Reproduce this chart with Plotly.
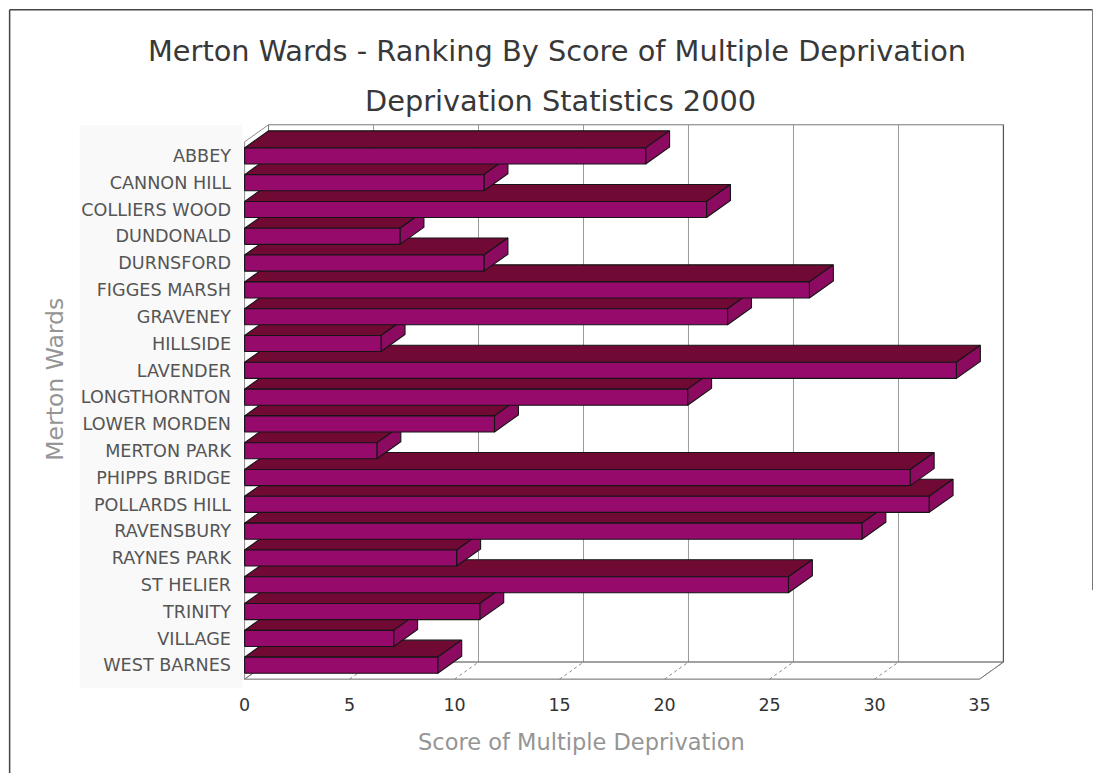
import plotly.graph_objects as go

# ---------------- data ----------------
wards = ["ABBEY", "CANNON HILL", "COLLIERS WOOD", "DUNDONALD", "DURNSFORD",
         "FIGGES MARSH", "GRAVENEY", "HILLSIDE", "LAVENDER", "LONGTHORNTON",
         "LOWER MORDEN", "MERTON PARK", "PHIPPS BRIDGE", "POLLARDS HILL",
         "RAVENSBURY", "RAYNES PARK", "ST HELIER", "TRINITY", "VILLAGE",
         "WEST BARNES"]
scores = [19.1, 11.4, 22.0, 7.4, 11.4, 26.9, 23.0, 6.5, 33.9, 21.1,
          11.9, 6.3, 31.7, 32.6, 29.4, 10.1, 25.9, 11.2, 7.1, 9.2]
x_ticks = [0, 5, 10, 15, 20, 25, 30, 35]
x_max = 35

title_1 = "Merton Wards - Ranking By Score of Multiple Deprivation"
title_2 = "Deprivation Statistics 2000"
x_title = "Score of Multiple Deprivation"
y_title = "Merton Wards"

# ---------------- style / geometry ----------------
FONT = "DejaVu Sans"
FRONT = "#960a6c"
TOP = "#700a34"
SIDE = "#8c0a60"
EDGE = "#151515"
HALF = 0.3          # half bar thickness (category units)
DX = 1.14           # oblique depth offset in x units
DY = 0.635          # oblique depth offset in category units
FLOOR_FRONT = -0.52
FLOOR_BACK = FLOOR_FRONT + DY
WALL_TOP = 20.16

FIG_W, FIG_H = 1101, 773
L, R, T, B = 232.4, 68.5, 113.1, 81.2
PW = FIG_W - L - R
PH = FIG_H - T - B


def xp(px):
    return (px - L) / PW


def yp(py):
    return (FIG_H - B - py) / PH


n = len(wards)
pos = [n - 1 - i for i in range(n)]

fig = go.Figure()


def poly(xs, ys, fill, line_color=EDGE, width=1.1, dash="solid"):
    fig.add_trace(go.Scatter(
        x=xs, y=ys, mode="lines", fill="toself" if fill else "none",
        fillcolor=fill if fill else None,
        line=dict(color=line_color, width=width, dash=dash),
        hoverinfo="skip", showlegend=False))


# left wall
poly([0, DX, DX, 0, 0],
     [FLOOR_FRONT, FLOOR_BACK, WALL_TOP, WALL_TOP - DY, FLOOR_FRONT],
     "white", "#8a8a8a", 1)
# back wall
poly([DX, x_max + DX, x_max + DX, DX, DX],
     [FLOOR_BACK, FLOOR_BACK, WALL_TOP, WALL_TOP, FLOOR_BACK],
     "white", "#777777", 1)
# gridlines on back wall
for k in x_ticks[1:-1]:
    poly([k + DX, k + DX], [FLOOR_BACK, WALL_TOP], None, "#9a9a9a", 1)
# right wall edge, darker
poly([x_max + DX, x_max + DX], [FLOOR_BACK, WALL_TOP], None, "#555555", 1.2)
# floor
poly([0, x_max, x_max + DX, DX, 0],
     [FLOOR_FRONT, FLOOR_FRONT, FLOOR_BACK, FLOOR_BACK, FLOOR_FRONT],
     "white", "#666666", 1)
for k in x_ticks:
    poly([k, k + DX], [FLOOR_FRONT, FLOOR_BACK], None, "#888888", 1, "dot")

# bars, bottom first so upper bars occlude the backs of lower ones
for i in range(n - 1, -1, -1):
    v = scores[i]
    p = pos[i]
    lo, hi = p - HALF, p + HALF
    # top face
    poly([0, v, v + DX, DX, 0], [hi, hi, hi + DY, hi + DY, hi], TOP)
    # side face
    poly([v, v + DX, v + DX, v, v], [lo, lo + DY, hi + DY, hi, lo], SIDE)
    # front face
    poly([0, v, v, 0, 0], [lo, lo, hi, hi, lo], FRONT)

fig.update_layout(
    width=FIG_W, height=FIG_H,
    margin=dict(l=L, r=R, t=T, b=B, pad=0),
    paper_bgcolor="white", plot_bgcolor="white",
    showlegend=False, hovermode=False,
    font=dict(family=FONT),
    xaxis=dict(range=[-0.6, 37.5], tickvals=x_ticks,
               ticktext=[str(t) for t in x_ticks],
               showgrid=False, zeroline=False, showline=False, ticks="",
               tickfont=dict(family=FONT, size=17.5, color="#333333"),
               fixedrange=True),
    yaxis=dict(range=[-1.0, 20.6], tickvals=pos, ticktext=wards,
               showgrid=False, zeroline=False, showline=False, ticks="",
               tickfont=dict(family=FONT, size=17.6, color="#555555"),
               fixedrange=True),
)

annos = [
    dict(text=title_1, x=xp(557), y=yp(51), font=dict(size=28.8, color="#383838")),
    dict(text=title_2, x=xp(561), y=yp(101), font=dict(size=28.8, color="#383838")),
    dict(text=x_title, x=xp(582), y=yp(742), font=dict(size=22.5, color="#959595")),
    dict(text=y_title, x=xp(55), y=yp(379), textangle=-90,
         font=dict(size=23.5, color="#959595")),
]
for a in annos:
    a.update(xref="paper", yref="paper", showarrow=False,
             xanchor="center", yanchor="middle")
    a["font"]["family"] = FONT
    fig.add_annotation(**a)

shapes = [
    # light grey label area
    dict(type="rect", x0=xp(80), x1=xp(243), y0=yp(688), y1=yp(125),
         fillcolor="#f9f9f9", line=dict(width=0), layer="below"),
    # outer frame
    dict(type="line", x0=xp(10), x1=xp(10), y0=yp(10), y1=yp(773),
         line=dict(color="#444444", width=1.5)),
    dict(type="line", x0=xp(10), x1=xp(1093), y0=yp(10), y1=yp(10),
         line=dict(color="#444444", width=1.5)),
    dict(type="line", x0=xp(1093), x1=xp(1093), y0=yp(10), y1=yp(590),
         line=dict(color="#777777", width=1)),
]
for s in shapes:
    s.update(xref="paper", yref="paper")
    fig.add_shape(**s)

fig.write_html("out.html")
